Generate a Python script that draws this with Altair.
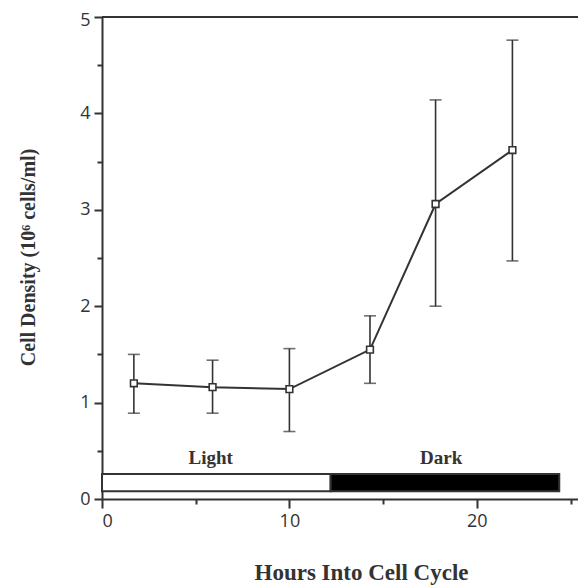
import altair as alt
import pandas as pd

hours = [1.7, 5.9, 10.0, 14.3, 17.8, 21.9]
density = [1.20, 1.16, 1.14, 1.55, 3.06, 3.62]
err_low = [0.89, 0.89, 0.70, 1.20, 2.00, 2.47]
err_high = [1.50, 1.44, 1.56, 1.90, 4.14, 4.76]

period_names = ["Light", "Dark"]
period_start = [0.0, 12.2]
period_end = [12.2, 24.4]
period_fill = ["white", "black"]
period_label_x = [5.8, 18.1]
period_label_y = [0.36, 0.36]
period_bottom = [0.08, 0.08]
period_top = [0.26, 0.26]

INK = "#333333"

df = pd.DataFrame({"h": hours, "d": density, "lo": err_low, "hi": err_high})
pdf = pd.DataFrame({
    "name": period_names, "s": period_start, "e": period_end, "fill": period_fill,
    "lx": period_label_x, "ly": period_label_y, "b": period_bottom, "t": period_top,
})

xscale = alt.Scale(domain=[0, 25.4], nice=False, zero=False)
yscale = alt.Scale(domain=[0, 5], nice=False)

tick_cond = {"condition": {"test": "datum.value % 1 === 0", "value": 8}, "value": 5}
xtick_cond = {"condition": {"test": "datum.value % 10 === 0", "value": 9}, "value": 5}
ylab_offset = {"condition": {"test": "datum.value === 5", "value": 3}, "value": 0}

xaxis = alt.Axis(
    values=[0, 5, 10, 15, 20, 25],
    labelExpr="datum.value % 10 === 0 ? format(datum.value, 'd') : ''",
    tickSize=xtick_cond, grid=False,
    title="Hours Into Cell Cycle", titleX=259, titleY=80, titleBaseline="alphabetic",
    titleAnchor="start", titleAlign="center",
)
yaxis = alt.Axis(
    values=[0, 0.5, 1, 1.5, 2, 2.5, 3, 3.5, 4, 4.5, 5],
    labelExpr="datum.value % 1 === 0 ? format(datum.value, 'd') : ''",
    labelOffset=ylab_offset,
    tickSize=tick_cond, grid=False,
    title="Cell Density  (10⁶ cells/ml)", titleAngle=270, titleX=-68, titleY=240,
    titleAlign="center", titleBaseline="alphabetic", titleAnchor="start",
)

base = alt.Chart(df)

line = base.mark_line(color=INK, strokeWidth=2).encode(
    x=alt.X("h:Q", scale=xscale, axis=xaxis),
    y=alt.Y("d:Q", scale=yscale, axis=yaxis),
)
bars = base.mark_rule(color=INK, strokeWidth=1.6).encode(x="h:Q", y="lo:Q", y2="hi:Q")
cap_lo = base.mark_tick(color=INK, orient="horizontal", size=12, thickness=1.6).encode(x="h:Q", y="lo:Q")
cap_hi = base.mark_tick(color=INK, orient="horizontal", size=12, thickness=1.6).encode(x="h:Q", y="hi:Q")
pts = base.mark_point(shape="square", size=45, filled=True, fill="white", stroke=INK,
                      strokeWidth=1.6, opacity=1).encode(x="h:Q", y="d:Q")

top = alt.Chart(pd.DataFrame({"v": [5]})).mark_rule(color=INK, strokeWidth=2).encode(y="v:Q")

prect = alt.Chart(pdf).mark_rect(stroke=INK, strokeWidth=2).encode(
    x="s:Q", x2="e:Q", y="b:Q", y2="t:Q",
    fill=alt.Fill("fill:N", scale=None),
)
plab = alt.Chart(pdf).mark_text(font="Liberation Serif", fontWeight="bold", fontSize=19,
                                color=INK, baseline="alphabetic").encode(
    x="lx:Q", y="ly:Q", text="name:N")

chart = alt.layer(top, prect, plab, bars, cap_lo, cap_hi, line, pts).properties(
    width=476, height=482, autosize="none",
    padding={"left": 94, "top": 9, "right": 0, "bottom": 87},
    background="white",
).configure_view(stroke=None).configure_axis(
    domainColor=INK, domainWidth=2, tickColor=INK, tickWidth=2,
    labelFont="Open Sans", labelFontSize=18, labelColor=INK, labelPadding=4,
    titleFont="Liberation Serif", titleFontWeight="bold", titleColor=INK,
).configure_axisX(titleFontSize=23).configure_axisY(titleFontSize=20)

chart.save("out.html", embed_options={"renderer": "svg", "actions": False})
